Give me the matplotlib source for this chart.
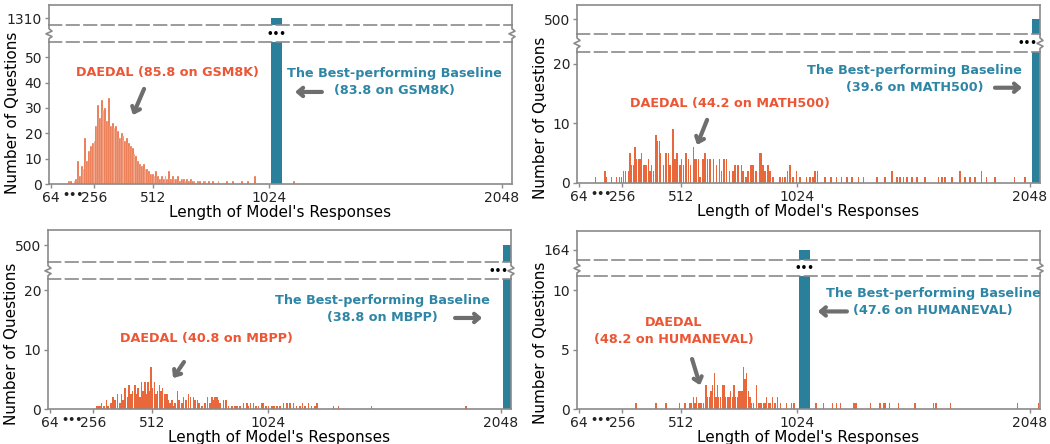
import numpy as np
import matplotlib
matplotlib.use('Agg')
import matplotlib.pyplot as plt
from matplotlib.lines import Line2D
from matplotlib import transforms

W, H = 1050, 444

ORANGE = '#e8683b'
ORANGE_TXT = '#ec5634'
BLUE = '#2a7f9b'
BLUE_TXT = '#2e86a6'
GRAY = '#8a8a8a'
ARROW = '#6e6e6e'

# x axis: length of the model's responses
tick_vals = [64, 256, 512, 1024, 2048]
tick_labels = ['64', '256', '512', '1024', '2048']

# GSM8K - DAEDAL, 8-token bins from 144, then sparse tail
gsm_bin_start = 144
gsm_counts = [1, 1, 0, 1, 2, 9, 3, 7, 6, 18,
              9, 13, 15, 16, 17, 23, 31, 26, 33, 29,
              30, 25, 34, 23, 24, 22, 23, 21, 18, 20,
              19, 17, 18, 16, 15, 14, 12, 11, 9, 8,
              7, 8, 6, 6, 5, 4, 4, 3, 5, 3,
              2, 3, 2, 3, 2, 5, 2, 3, 2, 2,
              3, 1, 2, 2, 1, 2, 1, 2, 1, 1,
              0, 1, 1, 0, 1, 1, 0, 1]
gsm_tail_len = [778, 801, 837, 866, 903, 932, 962, 1135]
gsm_tail_cnt = [1, 1, 1, 1, 1, 1, 3, 1]
gsm_base_len, gsm_base_cnt = 1024, 1310

# MATH500 - DAEDAL
math_len = [138, 179, 186, 208, 230, 242, 252, 260, 270, 282,
            289, 296, 304, 311, 318, 326, 333, 340, 348, 355,
            362, 370, 377, 384, 392, 403, 409, 418, 424, 436,
            447, 458, 465, 477, 487, 497, 509, 516, 524, 535,
            546, 556, 568, 575, 582, 590, 597, 609, 619, 629,
            641, 656, 670, 682, 692, 702, 714, 726, 741, 751,
            765, 780, 787, 798, 809, 820, 831, 843, 861, 868,
            875, 883, 897, 905, 919, 949, 960, 971, 981, 993,
            1007, 1022, 1037, 1066, 1081, 1095, 1103, 1113, 1147, 1173,
            1198, 1220, 1242, 1264, 1293, 1315, 1374, 1410, 1440, 1462,
            1476, 1491, 1506, 1528, 1550, 1586, 1645, 1660, 1674, 1704,
            1740, 1762, 1784, 1806, 1835, 1857, 1894, 1979, 2026, 2086]
math_cnt = [1, 2, 1, 1, 1, 1, 1, 2, 2, 2,
            5, 3, 3, 6, 4, 4, 4, 5, 3, 3,
            3, 4, 2, 3, 2, 8, 7, 7, 5, 3,
            5, 5, 3, 9, 4, 5, 3, 4, 3, 5,
            4, 3, 6, 4, 4, 4, 1, 4, 5, 4,
            4, 4, 3, 4, 2, 4, 4, 2, 2, 3,
            3, 3, 2, 1, 2, 3, 3, 2, 5, 5,
            3, 2, 3, 2, 1, 1, 1, 1, 2, 3,
            1, 2, 1, 1, 1, 1, 2, 2, 1, 1,
            1, 1, 1, 1, 1, 1, 1, 1, 2, 1,
            1, 1, 1, 1, 1, 1, 1, 1, 1, 1,
            2, 1, 1, 1, 2, 1, 1, 1, 1, 12]
math_base_len, math_base_cnt = 2048, 500

# MBPP - DAEDAL
mbpp_len = [270, 277, 285, 292, 302, 314, 321, 332, 343, 351,
            361, 373, 380, 387, 395, 405, 412, 420, 428, 439,
            446, 453, 461, 468, 475, 483, 490, 497, 505, 510,
            516, 524, 531, 537, 546, 553, 560, 570, 578, 585,
            592, 600, 607, 614, 625, 633, 644, 651, 663, 673,
            683, 695, 702, 713, 721, 732, 746, 757, 768, 776,
            783, 790, 798, 805, 812, 827, 839, 849, 864, 878,
            886, 900, 915, 930, 937, 947, 959, 971, 981, 996,
            1003, 1015, 1025, 1040, 1050, 1062, 1076, 1091, 1106, 1120,
            1135, 1149, 1164, 1176, 1186, 1201, 1215, 1230, 1240, 1311,
            1333, 1479, 1894, 2086]
mbpp_cnt = [0.5, 0.5, 0.5, 1, 0.5, 1.5, 0.5, 1, 2, 1.5,
            2.5, 1, 2.5, 1.5, 3.5, 2, 4, 2.5, 3, 4,
            2.5, 3.5, 2, 4.5, 3, 4.5, 2.5, 4.5, 3, 7,
            3.5, 4.5, 2.5, 3, 4, 3, 3.5, 2.5, 2.5, 1.5,
            1, 1.5, 0.5, 1, 3, 1.5, 1, 2, 1.5, 2.5,
            2, 2, 1.5, 1.5, 1, 0.5, 1, 2, 1, 2,
            1.5, 2, 2, 1.5, 1, 1.5, 1.5, 0.5, 0.5, 0.5,
            0.5, 0.5, 1, 1, 0.5, 1, 1, 0.5, 0.5, 1,
            1, 0.5, 0.5, 0.5, 0.5, 0.5, 0.5, 1, 1, 1,
            1, 0.5, 0.5, 1, 0.5, 1, 0.5, 0.5, 1, 0.5,
            0.5, 0.5, 0.5, 1.5]
mbpp_base_len, mbpp_base_cnt = 2048, 500

# HUMANEVAL - DAEDAL
he_len = [315, 403, 447, 506, 531, 553, 560, 568, 575, 582,
          590, 597, 604, 611, 623, 631, 638, 645, 653, 660,
          667, 673, 679, 688, 695, 702, 710, 717, 724, 732,
          739, 746, 754, 761, 768, 776, 782, 789, 795, 802,
          809, 817, 824, 831, 846, 853, 861, 868, 875, 883,
          890, 897, 905, 915, 927, 937, 952, 978, 1000, 1010,
          1107, 1139, 1180, 1198, 1215, 1274, 1283, 1347, 1388, 1406,
          1413, 1429, 1469, 1542, 1623, 1635, 1699, 1992, 2086]
he_cnt = [0.5, 0.5, 0.5, 0.5, 0.5, 0.5, 0.5, 1, 0.5, 1,
          0.5, 0.5, 0.5, 0.5, 2, 1, 1, 1.5, 2, 3,
          1, 2, 1, 1, 2, 2, 1, 1, 1, 1.5,
          1, 2, 1, 1, 1.5, 1.5, 1.5, 3.5, 2.5, 3,
          1.5, 1, 0.5, 0.5, 2, 0.5, 0.5, 0.5, 0.5, 0.5,
          1, 0.5, 0.5, 1, 0.5, 1, 0.5, 0.5, 0.5, 0.5,
          0.5, 0.5, 0.5, 0.5, 0.5, 0.5, 0.5, 0.5, 0.5, 0.5,
          0.5, 0.5, 0.5, 0.5, 0.5, 0.5, 0.5, 0.5, 0.5]
he_base_len, he_base_cnt = 1024, 164

gsm_len = list(np.arange(len(gsm_counts)) * 8 + gsm_bin_start) + gsm_tail_len
gsm_cnt = gsm_counts + gsm_tail_cnt

panels = [
    dict(lens=gsm_len, cnts=gsm_cnt, width=8, edge=0.25, base=(gsm_base_len, gsm_base_cnt),
         box=(49, 512, 5, 25, 42, 184), ymax=56, yticks=[0, 10, 20, 30, 40, 50], frac=0.345,
         d_txt='DAEDAL (85.8 on GSM8K)', d_xy=(575, 43.8), d_arrow=((474, 37.5), (425, 27.2)),
         b_txt='The Best-performing Baseline\n(83.8 on GSM8K)', b_xy=(1573, 40.2),
         b_arrow=((1256, 36.3), (1138, 36.3)), dots_ha='center'),
    dict(lens=math_len, cnts=math_cnt, width=7, edge=0, base=(math_base_len, math_base_cnt),
         box=(577, 1040, 5, 34, 52, 183), ymax=22, yticks=[0, 10, 20], frac=0.51,
         d_txt='DAEDAL (44.2 on MATH500)', d_xy=(729, 13.4), d_arrow=((628, 10.6), (584, 6.4)),
         b_txt='The Best-performing Baseline\n(39.6 on MATH500)', b_xy=(1542, 17.5),
         b_arrow=((1894, 16), (2013, 16)), dots_ha='right'),
    dict(lens=mbpp_len, cnts=mbpp_cnt, width=7, edge=0, base=(mbpp_base_len, mbpp_base_cnt),
         box=(48, 511, 230, 262, 279, 409), ymax=21.85, yticks=[0, 10, 20], frac=0.53,
         d_txt='DAEDAL (40.8 on MBPP)', d_xy=(751, 11.8), d_arrow=((654, 7.9), (606, 5.2)),
         b_txt='The Best-performing Baseline\n(38.8 on MBPP)', b_xy=(1525, 16.8),
         b_arrow=((1846, 15.3), (1965, 15.3)), dots_ha='right'),
    dict(lens=he_len, cnts=he_cnt, width=6, edge=0, base=(he_base_len, he_base_cnt),
         box=(577, 1040, 231, 260, 276, 409), ymax=11.18, yticks=[0, 5, 10], frac=0.345,
         d_txt='DAEDAL\n(48.2 on HUMANEVAL)', d_xy=(483, 6.55), d_arrow=((562, 4.2), (597, 2.0)),
         b_txt='The Best-performing Baseline\n(47.6 on HUMANEVAL)', b_xy=(1622, 9.0),
         b_arrow=((1243, 8.2), (1115, 8.2)), dots_ha='center'),
]


def px_axes(fig, left, right, top, bottom):
    return fig.add_axes([left / W, 1 - bottom / H, (right - left) / W, (bottom - top) / H])


def zigzag(fig, x_px, y0_px, y1_px, sign):
    shape = [(0, 0), (0, 0.22), (3, 0.36), (-3, 0.52), (3, 0.68), (0, 0.8), (0, 1)]
    xs = [(x_px + sign * dx) / W for dx, f in shape]
    ys = [1 - (y0_px + f * (y1_px - y0_px)) / H for dx, f in shape]
    fig.add_artist(Line2D(xs, ys, transform=fig.transFigure, color=GRAY, lw=1.2))


def draw_panel(fig, p):
    left, right, top, brk_t, brk_b, bottom = p['box']
    ax_t = px_axes(fig, left, right, top, brk_t)
    ax_b = px_axes(fig, left, right, brk_b, bottom)
    base_len, base_cnt = p['base']

    ax_b.bar(p['lens'], p['cnts'], width=p['width'], color=ORANGE,
             edgecolor='white', linewidth=p['edge'])
    for ax in (ax_t, ax_b):
        ax.bar(base_len + 8, base_cnt, width=48, align='edge', color=BLUE)
        ax.set_xlim(56, 2092)
        for s in ax.spines.values():
            s.set_color(GRAY)
            s.set_linewidth(1.2)
        ax.tick_params(colors='#222222', labelsize=10, length=3, width=1, pad=2)
        ax.tick_params(axis='both', color=GRAY)

    span = 60 if base_cnt > 1000 else (100 if base_cnt > 300 else 20)
    lo = base_cnt - p['frac'] * span
    ax_t.set_ylim(lo, lo + span)
    ax_t.set_yticks([base_cnt])
    ax_t.set_xticks([])
    ax_t.spines['bottom'].set_linestyle((0, (7.5, 3)))

    ax_b.set_ylim(0, p['ymax'])
    ax_b.set_yticks(p['yticks'])
    ax_b.set_xticks(tick_vals, tick_labels)
    ax_b.spines['top'].set_linestyle((0, (7.5, 3)))
    ax_b.annotate('•••', xy=(160, 0), xycoords=('data', 'axes fraction'),
                  xytext=(0, -4.2), textcoords='offset points', ha='center', va='top',
                  fontsize=8, fontweight='bold', color='#222222')

    ax_b.set_xlabel("Length of Model's Responses", fontsize=11, labelpad=0)
    ax_b.set_ylabel('Number of Questions', fontsize=11, labelpad=3)

    # broken-axis marks
    zigzag(fig, left, brk_t, brk_b, 1)
    zigzag(fig, right, brk_t, brk_b, 1)
    trans = transforms.blended_transform_factory(ax_b.transData, fig.transFigure)
    dots_x = base_len + 32
    fig.text(dots_x, 1 - (brk_t + brk_b) / 2 / H, '•••', transform=trans,
             ha=p['dots_ha'], va='center', fontsize=7.5, fontweight='bold', color='black')

    # annotations
    ax_b.text(*p['d_xy'], p['d_txt'], ha='center', va='center', color=ORANGE_TXT,
              fontsize=9.2, fontweight='bold', linespacing=1.35)
    ax_b.text(*p['b_xy'], p['b_txt'], ha='center', va='center', color=BLUE_TXT,
              fontsize=9.2, fontweight='bold', linespacing=1.35)
    arrow = dict(arrowstyle='->, head_length=0.35, head_width=0.3', lw=3, color=ARROW,
                 shrinkA=0, shrinkB=0)
    for tail, head in (p['d_arrow'], p['b_arrow']):
        ax_b.annotate('', xy=head, xytext=tail, arrowprops=arrow)


fig = plt.figure(figsize=(W / 100, H / 100), dpi=100)
for p in panels:
    draw_panel(fig, p)
fig.savefig('out.png', dpi=100)
